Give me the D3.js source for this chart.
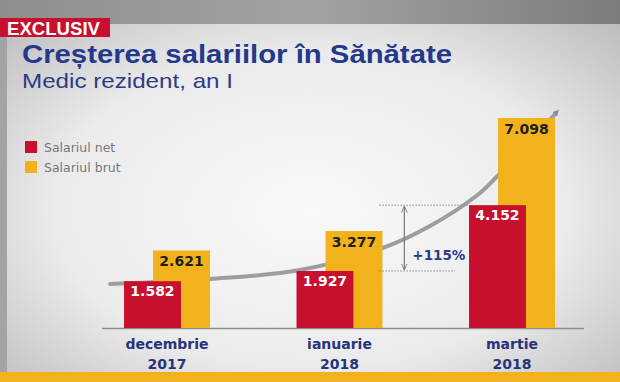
<!DOCTYPE html>
<html><head><meta charset="utf-8">
<script src="https://cdn.jsdelivr.net/npm/d3@7"></script>
<style>html,body{margin:0;padding:0;background:#fff;}svg{display:block;}</style>
</head><body>
<script>
const categories = ["decembrie 2017", "ianuarie 2018", "martie 2018"];
const seriesNames = ["Salariul net", "Salariul brut"];
const netValues = [1582, 1927, 4152];
const grossValues = [2621, 3277, 7098];
const valueLabels = [["1.582", "2.621"], ["1.927", "3.277"], ["4.152", "7.098"]];
// decorative trend curve: [category position index, salary value]
const trendIndex = [-0.33, 0.25, 0.77, 1.25, 1.525, 1.80, 1.91, 2.255];
const trendValues = [1487, 1656, 1960, 2704, 3448, 4495, 5104, 7267];
const growthLabel = "+115%";

const W = 620, H = 382;
const RED = "#c8102e", YEL = "#f2b21b", NAVY = "#27337a";

const svg = d3.select("body").append("svg").attr("width", W).attr("height", H);
const defs = svg.append("defs");

const bg = defs.append("radialGradient").attr("id", "bg")
  .attr("cx", 0.5).attr("cy", 0.55).attr("r", 0.75);
bg.append("stop").attr("offset", "0").attr("stop-color", "#f9f9f9");
bg.append("stop").attr("offset", "0.55").attr("stop-color", "#ebebec");
bg.append("stop").attr("offset", "1").attr("stop-color", "#b4b4b6");

const topG = defs.append("linearGradient").attr("id", "topg");
topG.append("stop").attr("offset", "0").attr("stop-color", "#8e8e8e");
topG.append("stop").attr("offset", "0.5").attr("stop-color", "#a2a2a2");
topG.append("stop").attr("offset", "1").attr("stop-color", "#7c7c7c");

defs.append("marker").attr("id", "tip").attr("viewBox", "0 0 10 10")
  .attr("refX", 3).attr("refY", 5).attr("markerWidth", 1.6).attr("markerHeight", 1.6)
  .attr("orient", "auto")
  .append("path").attr("d", "M0,0 L10,5 L0,10 z").attr("fill", "#8a8aa8");
defs.append("marker").attr("id", "arr").attr("viewBox", "0 0 10 10")
  .attr("refX", 9).attr("refY", 5).attr("markerWidth", 6).attr("markerHeight", 6)
  .attr("orient", "auto-start-reverse")
  .append("path").attr("d", "M0,1 L9,5 L0,9").attr("fill", "none").attr("stroke", "#777").attr("stroke-width", 1.2);

// background
svg.append("rect").attr("width", W).attr("height", H).attr("fill", "url(#bg)");
svg.append("rect").attr("width", W).attr("height", 24).attr("fill", "url(#topg)");
svg.append("rect").attr("x", 0).attr("y", 24).attr("width", 7).attr("height", H - 24).attr("fill", "#a3a3a5");
svg.append("rect").attr("x", 0).attr("y", 372).attr("width", W).attr("height", 10).attr("fill", YEL);

// EXCLUSIV tag
svg.append("rect").attr("x", 0).attr("y", 18).attr("width", 110).attr("height", 19).attr("fill", RED);
svg.append("text").attr("x", 7).attr("y", 34.5).text("EXCLUSIV")
  .attr("font-family", "Liberation Sans, Arial, sans-serif").attr("font-weight", "bold")
  .attr("font-size", 18).attr("fill", "#fff").attr("textLength", 93).attr("lengthAdjust", "spacingAndGlyphs");

// titles
svg.append("text").attr("x", 22).attr("y", 63).text("Creșterea salariilor în Sănătate")
  .attr("font-family", "Liberation Sans, Arial, sans-serif").attr("font-weight", "bold").attr("font-size", 25)
  .attr("fill", "#24398c").attr("textLength", 430).attr("lengthAdjust", "spacingAndGlyphs");
svg.append("text").attr("x", 22).attr("y", 88).text("Medic rezident, an I")
  .attr("font-family", "Liberation Sans, Arial, sans-serif").attr("font-weight", 400).attr("font-size", 21)
  .attr("fill", "#2d3b85").attr("textLength", 211).attr("lengthAdjust", "spacingAndGlyphs");

// legend
const colors = [RED, YEL];
const leg = svg.append("g");
seriesNames.forEach((n, i) => {
  leg.append("rect").attr("x", 25).attr("y", 141 + i * 20).attr("width", 12).attr("height", 12).attr("fill", colors[i]);
  leg.append("text").attr("x", 44).attr("y", 152 + i * 20).text(n)
    .attr("font-family", "DejaVu Sans, sans-serif").attr("font-size", 12.5).attr("fill", "#777");
});

// scales
const x = d3.scaleBand().domain(categories).range([80.75, 598.25]).padding(0);
const bw = x.bandwidth();
const barW = bw * 0.33;
const y = d3.scaleLinear().domain([0, 7098]).range([328, 118]);
const xi = d3.scaleLinear().domain([0, 2]).range([x(categories[0]) + bw / 2, x(categories[2]) + bw / 2]);

// trend curve (behind bars)
const trend = trendIndex.map((t, i) => [t, trendValues[i]]);
svg.append("path").datum(trend)
  .attr("d", d3.line().x(d => xi(d[0])).y(d => y(d[1])).curve(d3.curveCatmullRom.alpha(0.5)))
  .attr("fill", "none").attr("stroke", "#9d9d9f").attr("stroke-width", 4).attr("stroke-linecap", "round")
  .attr("marker-end", "url(#tip)");

// axis baseline
svg.append("line").attr("x1", 102).attr("x2", 584).attr("y1", y(0) + 0.5).attr("y2", y(0) + 0.5)
  .attr("stroke", "#8e8e8e").attr("stroke-width", 1.5);

// bars
const groups = svg.append("g").selectAll("g").data(categories).join("g");
groups.each(function (c, i) {
  const g = d3.select(this);
  const cx = x(c) + bw / 2;
  // gross (behind)
  const gx = cx - barW * 0.245;
  g.append("rect").attr("x", gx).attr("y", y(grossValues[i])).attr("width", barW)
    .attr("height", y(0) - y(grossValues[i])).attr("fill", YEL);
  g.append("text").attr("x", gx + barW / 2).attr("y", y(grossValues[i]) + 16).text(valueLabels[i][1])
    .attr("text-anchor", "middle").attr("font-family", "DejaVu Sans, sans-serif").attr("font-weight", "bold")
    .attr("font-size", 14).attr("fill", "#1e1e1e");
  // net (front)
  const nx = cx - barW * 0.755;
  g.append("rect").attr("x", nx).attr("y", y(netValues[i])).attr("width", barW)
    .attr("height", y(0) - y(netValues[i])).attr("fill", RED);
  g.append("text").attr("x", nx + barW / 2).attr("y", y(netValues[i]) + 15).text(valueLabels[i][0])
    .attr("text-anchor", "middle").attr("font-family", "DejaVu Sans, sans-serif").attr("font-weight", "bold")
    .attr("font-size", 14).attr("fill", "#fff");
  // category label
  const parts = c.split(" ");
  parts.forEach((p, k) => {
    g.append("text").attr("x", cx).attr("y", 349 + k * 20).text(p)
      .attr("text-anchor", "middle").attr("font-family", "DejaVu Sans, sans-serif").attr("font-weight", "bold")
      .attr("font-size", 14).attr("fill", NAVY);
  });
});

// growth bracket
const yTop = y(netValues[2]), yBot = y(netValues[1]);
const bx0 = x(categories[1]) + bw / 2 + barW * 0.7;
const bxTop = x(categories[2]) + bw / 2 - barW * 0.755;
svg.append("line").attr("x1", bx0).attr("x2", bxTop).attr("y1", yTop).attr("y2", yTop)
  .attr("stroke", "#8a8a8a").attr("stroke-width", 1).attr("stroke-dasharray", "1.5,1.5");
svg.append("line").attr("x1", bx0).attr("x2", bxTop - 14).attr("y1", yBot).attr("y2", yBot)
  .attr("stroke", "#8a8a8a").attr("stroke-width", 1).attr("stroke-dasharray", "1.5,1.5");
const ax = bx0 + 25;
svg.append("line").attr("x1", ax).attr("x2", ax).attr("y1", yTop + 1).attr("y2", yBot - 1)
  .attr("stroke", "#777").attr("stroke-width", 1.2)
  .attr("marker-start", "url(#arr)").attr("marker-end", "url(#arr)");
svg.append("text").attr("x", ax + 8).attr("y", (yTop + yBot) / 2 + 22).text(growthLabel)
  .attr("font-family", "DejaVu Sans, sans-serif").attr("font-weight", "bold")
  .attr("font-size", 13.5).attr("fill", "#2d3b8c");
</script>
</body></html>
